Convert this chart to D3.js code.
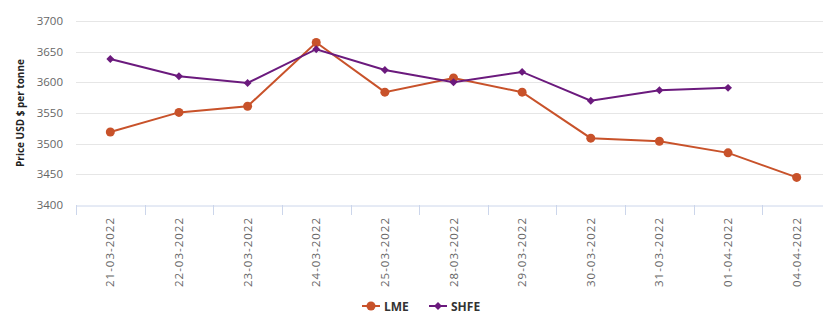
<!DOCTYPE html>
<html><head><meta charset="utf-8">
<script src="https://cdn.jsdelivr.net/npm/d3@7"></script>
<style>
body{margin:0;background:#fff;}
svg{display:block;font-family:"Open Sans","DejaVu Sans",sans-serif;}
</style></head>
<body><svg id="c" width="823" height="328"></svg>
<script>
const categories = ["21-03-2022","22-03-2022","23-03-2022","24-03-2022","25-03-2022","28-03-2022","29-03-2022","30-03-2022","31-03-2022","01-04-2022","04-04-2022"];
const lmeValues = [3519,3551,3561,3665,3584,3607,3584,3509,3504,3485,3445];
const shfeValues = [3638,3610,3599,3654,3620,3600,3617,3570,3587,3591,null];
const yTicks = [3400,3450,3500,3550,3600,3650,3700];
const seriesNames = ["LME","SHFE"];
const colors = {LME:"#c8522a", SHFE:"#6b1a7d"};

const svg = d3.select("#c");
const pLeft = 76, pRight = 831, pTop = 21, pBottom = 205;
const x = d3.scaleBand().domain(categories).range([pLeft, pRight]);
const y = d3.scaleLinear().domain([3400,3700]).range([pBottom, pTop]);

// grid
svg.append("g").selectAll("line").data(yTicks.filter(d=>d!==3400)).join("line")
  .attr("x1", pLeft).attr("x2", 823).attr("y1", d=>Math.round(y(d))+0.5).attr("y2", d=>Math.round(y(d))+0.5)
  .attr("stroke","#e6e6e6").attr("stroke-width",1);

// y labels
svg.append("g").selectAll("text").data(yTicks).join("text")
  .attr("x", 63).attr("y", d=>y(d)+4).attr("text-anchor","end")
  .attr("font-size","11.5px").attr("fill","#666").text(d=>d);

// x axis baseline
const xAxis = d3.axisBottom(x).tickSize(0).tickSizeOuter(0).tickFormat("");
const gx = svg.append("g").attr("transform",`translate(0,${pBottom+0.5})`).call(xAxis);
gx.select(".domain").attr("stroke","#ccd6eb");
gx.selectAll(".tick").remove();
// ticks at band boundaries
const bounds = categories.map(c=>x(c)).concat([pRight]);
svg.append("g").selectAll("line").data(bounds).join("line")
  .attr("x1", d=>Math.round(d)+0.5).attr("x2", d=>Math.round(d)+0.5)
  .attr("y1", pBottom).attr("y2", pBottom+10).attr("stroke","#ccd6eb");
svg.append("g").selectAll("text").data(categories).join("text")
  .attr("transform", d=>`translate(${x(d)+x.bandwidth()/2+4},${217}) rotate(-90)`)
  .attr("text-anchor","end").attr("font-size","11.5px").attr("fill","#666")
  .attr("letter-spacing","1px").text(d=>d);

// y title
svg.append("text").attr("transform","translate(24,113) rotate(-90)")
  .attr("text-anchor","middle").attr("font-size","10px").attr("font-weight","bold")
  .attr("fill","#222").text("Price USD $ per tonne");

const cx = d => x(d) + x.bandwidth()/2;
const line = d3.line().defined(d=>d.v!=null).x(d=>cx(d.c)).y(d=>y(d.v));
const lmeData = categories.map((c,i)=>({c, v:lmeValues[i]}));
const shfeData = categories.map((c,i)=>({c, v:shfeValues[i]}));

svg.append("path").datum(lmeData).attr("d", line).attr("fill","none")
  .attr("stroke",colors.LME).attr("stroke-width",2);
svg.append("g").selectAll("circle").data(lmeData.filter(d=>d.v!=null)).join("circle")
  .attr("cx", d=>cx(d.c)).attr("cy", d=>y(d.v)).attr("r",4.5).attr("fill",colors.LME);

svg.append("path").datum(shfeData).attr("d", line).attr("fill","none")
  .attr("stroke",colors.SHFE).attr("stroke-width",2);
const diamond = d3.symbol().type(d3.symbolDiamond2).size(40);
svg.append("g").selectAll("path").data(shfeData.filter(d=>d.v!=null)).join("path")
  .attr("transform", d=>`translate(${cx(d.c)},${y(d.v)})`).attr("d", diamond).attr("fill",colors.SHFE);

// legend
const leg = svg.append("g");
const legItems = [{n:"LME", x:362, tx:384}, {n:"SHFE", x:429, tx:451}];
legItems.forEach(it=>{
  leg.append("line").attr("x1",it.x).attr("x2",it.x+18).attr("y1",306).attr("y2",306)
    .attr("stroke",colors[it.n]).attr("stroke-width",2);
  if(it.n==="LME") leg.append("circle").attr("cx",it.x+9).attr("cy",306).attr("r",4.5).attr("fill",colors[it.n]);
  else leg.append("path").attr("transform",`translate(${it.x+9},306)`).attr("d",diamond).attr("fill",colors[it.n]);
  leg.append("text").attr("x",it.tx).attr("y",310.5).attr("font-size","12px").attr("font-weight","bold")
    .attr("fill","#333").text(it.n);
});
</script></body></html>
